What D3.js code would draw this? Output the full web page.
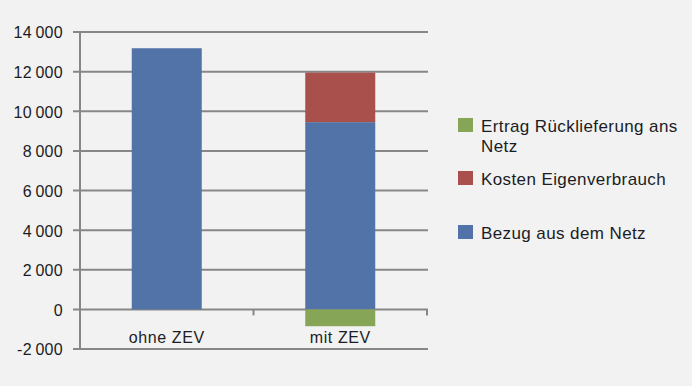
<!DOCTYPE html>
<html><head><meta charset="utf-8">
<script src="https://cdn.jsdelivr.net/npm/d3@7"></script>
<style>
html,body{margin:0;padding:0;background:#f2f2f2;}
svg{display:block;font-family:"Liberation Sans",Arial,sans-serif;}
</style></head>
<body>
<script>
const categories = ["ohne ZEV", "mit ZEV"];
const bezugAusDemNetz = [13180, 9450];
const kostenEigenverbrauch = [0, 2500];
const ertragRuecklieferung = [0, -850];
const yTicks = [-2000, 0, 2000, 4000, 6000, 8000, 10000, 12000, 14000];
const seriesNames = ["Ertrag Rücklieferung ans Netz", "Kosten Eigenverbrauch", "Bezug aus dem Netz"];
const seriesColors = ["#86a556", "#a94f4c", "#5173a8"];

const W = 692, H = 386;
const svg = d3.select("body").append("svg").attr("width", W).attr("height", H);
svg.append("rect").attr("width", W).attr("height", H).attr("fill", "#f2f2f2");

const y = d3.scaleLinear().domain([-2000, 14000]).range([349, 32]);
const x = d3.scaleBand().domain(categories).range([80, 427]).padding(0);
const barW = 70;
const grid = "#878787";
const txt = "#1c1c24";

// gridlines
svg.append("g").selectAll("line").data(yTicks).join("line")
  .attr("x1", 73).attr("x2", 428)
  .attr("y1", d => y(d)).attr("y2", d => y(d))
  .attr("stroke", grid).attr("stroke-width", 2);

// y axis line
svg.append("line").attr("x1", 80).attr("x2", 80).attr("y1", y(14000) - 1).attr("y2", y(-2000) + 1)
  .attr("stroke", grid).attr("stroke-width", 2);

// y labels
const fmtTick = d => (d < 0 ? "-" : "") + d3.format(",")(Math.abs(d)).replace(/,/g, "\u2009");
svg.append("g").selectAll("text").data(yTicks).join("text")
  .attr("x", 63).attr("y", d => y(d)).attr("dy", "0.4em")
  .attr("text-anchor", "end").attr("font-size", 16).attr("letter-spacing", 0.3).attr("fill", txt)
  .text(fmtTick);

// bars
const stacks = categories.map((c, i) => {
  const b = bezugAusDemNetz[i], k = kostenEigenverbrauch[i], e = ertragRuecklieferung[i];
  return [
    {c, y0: 0, y1: b, color: seriesColors[2]},
    {c, y0: b, y1: b + k, color: seriesColors[1]},
    {c, y0: e, y1: 0, color: seriesColors[0]}
  ];
}).flat().filter(d => d.y1 !== d.y0);

svg.append("g").selectAll("rect").data(stacks).join("rect")
  .attr("x", d => x(d.c) + x.bandwidth() / 2 - barW / 2)
  .attr("width", barW)
  .attr("y", d => y(Math.max(d.y0, d.y1)))
  .attr("height", d => Math.abs(y(d.y0) - y(d.y1)))
  .attr("fill", d => d.color);

// category axis ticks on zero line
const xt = [80, x(categories[1]), 427];
svg.append("g").selectAll("line").data(xt).join("line")
  .attr("x1", d => d).attr("x2", d => d)
  .attr("y1", y(0)).attr("y2", y(0) + 6)
  .attr("stroke", grid).attr("stroke-width", 2);

// category labels
svg.append("g").selectAll("text").data(categories).join("text")
  .attr("x", d => x(d) + x.bandwidth() / 2).attr("y", 343)
  .attr("text-anchor", "middle").attr("font-size", 16).attr("letter-spacing", 0.6).attr("fill", txt)
  .text(d => d);

// legend
const legend = [
  {name: seriesNames[0], color: seriesColors[0], y: 118, lines: ["Ertrag Rücklieferung ans", "Netz"]},
  {name: seriesNames[1], color: seriesColors[1], y: 171, lines: ["Kosten Eigenverbrauch"]},
  {name: seriesNames[2], color: seriesColors[2], y: 225, lines: ["Bezug aus dem Netz"]}
];
const lg = svg.append("g").selectAll("g").data(legend).join("g");
lg.append("rect").attr("x", 458).attr("y", d => d.y).attr("width", 15).attr("height", 14).attr("fill", d => d.color);
lg.append("text").attr("x", 481).attr("y", d => d.y + 14).attr("font-size", 17).attr("letter-spacing", 0.4).attr("fill", txt)
  .selectAll("tspan").data(d => d.lines).join("tspan")
  .attr("x", 481).attr("dy", (d, i) => i === 0 ? 0 : 20).text(d => d);
</script>
</body></html>
